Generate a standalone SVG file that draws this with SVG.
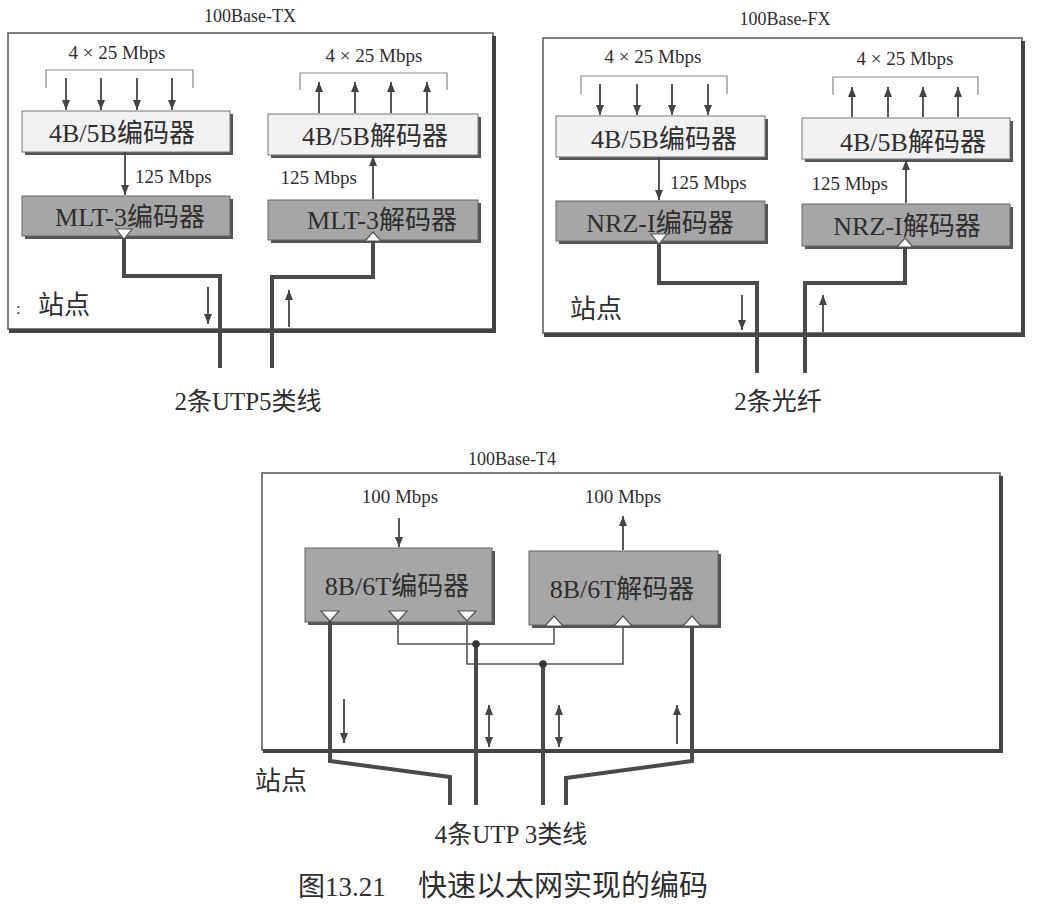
<svg xmlns="http://www.w3.org/2000/svg" width="1050" height="911" viewBox="0 0 1050 911">
<style>
text{font-family:"Liberation Serif","Noto Sans CJK SC",serif;fill:#2e2e2e}
.t{font-size:18px}
.m{font-size:19px}
.b{font-size:26px}
.s{font-size:25px}
.panel{fill:#fff;stroke:#555;stroke-width:1.5}
.pshadow{fill:none;stroke:#444;stroke-width:4}
.light{fill:#f1f1f1;stroke:#777;stroke-width:1}
.dark{fill:#a6a6a6;stroke:#666;stroke-width:1}
.shadow{fill:#555}
.br{fill:none;stroke:#888;stroke-width:1.2}
.ar{fill:none;stroke:#444;stroke-width:1.8;marker-end:url(#ah)}
.ar2{fill:none;stroke:#444;stroke-width:1.8;marker-end:url(#ah);marker-start:url(#ah)}
.wire{fill:none;stroke:#4a4a4a;stroke-width:4}
.thin{fill:none;stroke:#555;stroke-width:1.6}
.tri{fill:#fff;stroke:#555;stroke-width:1.2}
</style>
<defs>
<marker id="ah" viewBox="0 0 10 8" refX="10" refY="4" markerWidth="11" markerHeight="8" markerUnits="userSpaceOnUse" orient="auto-start-reverse">
<path d="M0,0 L10,4 L0,8 z" fill="#444"/>
</marker>
</defs>
<rect width="1050" height="911" fill="#fff"/>

<!-- ===== 100Base-TX ===== -->
<g id="panel-tx">
<rect class="panel" x="8" y="33" width="485" height="296"/>
<path class="pshadow" d="M494 36 V331 H9"/>
<text class="t" x="250" y="22" text-anchor="middle">100Base-TX</text>
<text x="38" y="314" style="font-size:26px">站点</text>
<text x="16" y="314" style="font-size:16px">:</text>
</g>
<g id="tx-in">
<text class="m" x="117" y="59" text-anchor="middle">4 × 25 Mbps</text>
<path class="br" d="M46 88 V70 H193 V88"/>
</g>
<g id="tx-enc1">
<rect class="shadow" x="25" y="114" width="208" height="41"/>
<rect class="light" x="22" y="111" width="208" height="41"/>
<text class="b" x="122" y="142" text-anchor="middle">4B/5B编码器</text>
</g>
<g id="tx-enc2">
<rect class="shadow" x="25" y="199" width="208" height="40"/>
<rect class="dark" x="22" y="196" width="208" height="40"/>
<text class="b" x="130" y="226" text-anchor="middle">MLT-3编码器</text>
<path class="tri" d="M116 229 H132 L124 239 Z"/>
</g>
<g id="tx-out">
<text class="m" x="374" y="62" text-anchor="middle">4 × 25 Mbps</text>
<path class="br" d="M300 90 V73 H447 V90"/>
</g>
<g id="tx-dec1">
<rect class="shadow" x="271" y="117" width="210" height="41"/>
<rect class="light" x="268" y="114" width="210" height="41"/>
<text class="b" x="375" y="145" text-anchor="middle">4B/5B解码器</text>
</g>
<g id="tx-dec2">
<rect class="shadow" x="271" y="203" width="210" height="40"/>
<rect class="dark" x="268" y="200" width="210" height="40"/>
<text class="b" x="382" y="229" text-anchor="middle">MLT-3解码器</text>
<path class="tri" d="M365 241 H381 L373 232 Z"/>
</g>
<g id="tx-cable">
<text class="s" x="248" y="410" text-anchor="middle">2条UTP5类线</text>
</g>

<!-- ===== 100Base-FX ===== -->
<g id="panel-fx">
<rect class="panel" x="543" y="38" width="479" height="295"/>
<path class="pshadow" d="M1023 41 V335 H544"/>
<text class="t" x="785" y="25" text-anchor="middle">100Base-FX</text>
<text x="570" y="318" style="font-size:26px">站点</text>
</g>
<g id="fx-in">
<text class="m" x="653" y="63" text-anchor="middle">4 × 25 Mbps</text>
<path class="br" d="M581 94 V76 H727 V94"/>
</g>
<g id="fx-enc1">
<rect class="shadow" x="559" y="119" width="209" height="41"/>
<rect class="light" x="556" y="116" width="209" height="41"/>
<text class="b" x="664" y="148" text-anchor="middle">4B/5B编码器</text>
</g>
<g id="fx-enc2">
<rect class="shadow" x="559" y="204" width="209" height="40"/>
<rect class="dark" x="556" y="201" width="209" height="40"/>
<text class="b" x="660" y="232" text-anchor="middle">NRZ-I编码器</text>
<path class="tri" d="M651 234 H667 L659 244 Z"/>
</g>
<g id="fx-out">
<text class="m" x="905" y="65" text-anchor="middle">4 × 25 Mbps</text>
<path class="br" d="M833 95 V77 H978 V95"/>
</g>
<g id="fx-dec1">
<rect class="shadow" x="805" y="121" width="208" height="41"/>
<rect class="light" x="802" y="118" width="208" height="41"/>
<text class="b" x="913" y="151" text-anchor="middle">4B/5B解码器</text>
</g>
<g id="fx-dec2">
<rect class="shadow" x="805" y="207" width="208" height="42"/>
<rect class="dark" x="802" y="204" width="208" height="42"/>
<text class="b" x="907" y="235" text-anchor="middle">NRZ-I解码器</text>
<path class="tri" d="M897 247 H913 L905 238 Z"/>
</g>
<g id="fx-cable">
<text class="s" x="778" y="410" text-anchor="middle">2条光纤</text>
</g>

<!-- ===== 100Base-T4 ===== -->
<g id="panel-t4">
<rect class="panel" x="262" y="473" width="738" height="277"/>
<path class="pshadow" d="M1001 476 V751 H263"/>
<text class="t" x="512" y="465" text-anchor="middle">100Base-T4</text>
<text x="255" y="790" style="font-size:26px">站点</text>
</g>
<g id="t4-in">
<text class="m" x="400" y="503" text-anchor="middle">100 Mbps</text>
</g>
<g id="t4-enc">
<rect class="shadow" x="308" y="551" width="187" height="74"/>
<rect class="dark" x="305" y="548" width="187" height="74"/>
<text class="b" x="397" y="595" text-anchor="middle">8B/6T编码器</text>
<path class="tri" d="M321 611 H339 L330 621 Z"/>
<path class="tri" d="M389 611 H407 L398 621 Z"/>
<path class="tri" d="M458 611 H476 L467 621 Z"/>
</g>
<g id="t4-out">
<text class="m" x="623" y="503" text-anchor="middle">100 Mbps</text>
</g>
<g id="t4-dec">
<rect class="shadow" x="532" y="554" width="189" height="74"/>
<rect class="dark" x="529" y="551" width="189" height="74"/>
<text class="b" x="622" y="598" text-anchor="middle">8B/6T解码器</text>
<path class="tri" d="M545 626 H563 L554 616 Z"/>
<path class="tri" d="M614 626 H632 L623 616 Z"/>
<path class="tri" d="M683 626 H701 L692 616 Z"/>
</g>
<g id="t4-cable">
<text class="s" x="511" y="843" text-anchor="middle">4条UTP 3类线</text>
</g>

<!-- ===== connectors ===== -->
<g id="connectors">
<!-- TX -->
<path class="ar" d="M66 78 V110"/>
<path class="ar" d="M101 78 V110"/>
<path class="ar" d="M137 78 V110"/>
<path class="ar" d="M172 78 V110"/>
<path class="ar" d="M125 152 V195"/>
<text class="m" x="135" y="183">125 Mbps</text>
<path class="ar" d="M319 113 V82"/>
<path class="ar" d="M355 113 V82"/>
<path class="ar" d="M391 113 V82"/>
<path class="ar" d="M427 113 V82"/>
<path class="ar" d="M373 199 V156"/>
<text class="m" x="357" y="184" text-anchor="end">125 Mbps</text>
<path class="wire" d="M124 239 V276 H220 V368"/>
<path class="wire" d="M373 241 V277 H272 V368"/>
<path class="ar" d="M208 287 V324"/>
<path class="ar" d="M289 327 V290"/>
<!-- FX -->
<path class="ar" d="M600 84 V115"/>
<path class="ar" d="M637 84 V115"/>
<path class="ar" d="M672 84 V115"/>
<path class="ar" d="M708 84 V115"/>
<path class="ar" d="M659 157 V200"/>
<text class="m" x="670" y="189">125 Mbps</text>
<path class="ar" d="M852 117 V87"/>
<path class="ar" d="M888 117 V87"/>
<path class="ar" d="M923 117 V87"/>
<path class="ar" d="M958 117 V87"/>
<path class="ar" d="M906 203 V160"/>
<text class="m" x="888" y="190" text-anchor="end">125 Mbps</text>
<path class="wire" d="M659 244 V283 H757 V373"/>
<path class="wire" d="M905 247 V283 H805 V373"/>
<path class="ar" d="M742 295 V330"/>
<path class="ar" d="M823 332 V295"/>
<!-- T4 -->
<path class="ar" d="M399 518 V547"/>
<path class="ar" d="M623 550 V516"/>
<path class="thin" d="M398 621 V644 H554 V626"/>
<path class="thin" d="M467 621 V664 H623 V626"/>
<path class="wire" d="M476 644 V805"/>
<path class="wire" d="M543 664 V805"/>
<circle cx="476" cy="644" r="3.8" fill="#333"/>
<circle cx="543" cy="664" r="3.8" fill="#333"/>
<path class="wire" d="M330 621 V761 L450 777 V805"/>
<path class="wire" d="M692 626 V761 L566 778 V805"/>
<path class="ar" d="M344 699 V743"/>
<path class="ar2" d="M489 705 V747"/>
<path class="ar2" d="M559 705 V747"/>
<path class="ar" d="M677 744 V705"/>
</g>

<g id="caption">
<text x="298" y="896" style="font-size:27px">图13.21</text>
<text x="418" y="896" style="font-size:29px">快速以太网实现的编码</text>
</g>
</svg>
